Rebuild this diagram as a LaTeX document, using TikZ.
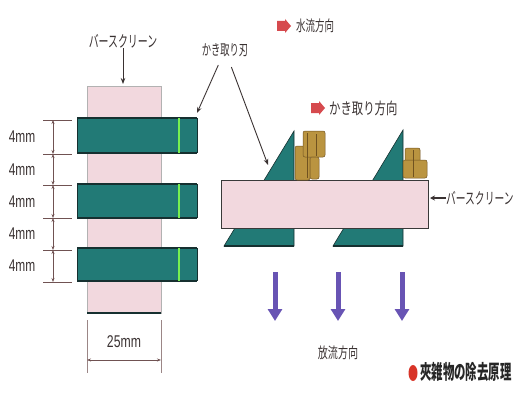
\documentclass[tikz,border=0pt]{standalone}
\usepackage{graphicx}
\usepackage{fontspec}
\setmainfont{Liberation Sans}
\newfontfamily\jp{Noto Sans CJK JP}
\usetikzlibrary{arrows.meta,calc}

\definecolor{barpink}{RGB}{242,216,222}
\definecolor{blade}{RGB}{34,122,118}
\definecolor{bladeedge}{RGB}{22,48,48}
\definecolor{hilite}{RGB}{120,240,80}
\definecolor{debris}{RGB}{186,148,64}
\definecolor{debrisdk}{RGB}{112,82,32}
\definecolor{flowred}{RGB}{214,74,78}
\definecolor{drainblue}{RGB}{104,84,180}
\definecolor{ink}{RGB}{58,50,50}
\definecolor{dimline}{RGB}{112,82,82}
\definecolor{dot}{RGB}{216,52,40}

% horizontally condensed text
\newcommand\narrow[2]{\scalebox{#1}[1]{#2}}

\begin{document}
\begin{tikzpicture}[x=1pt,y=-1pt,
  lbl/.style={inner sep=0pt, text=ink},
  jplbl/.style={lbl, font=\jp\fontsize{16}{16}\selectfont},
  jpsmall/.style={lbl, font=\jp\fontsize{15}{15}\selectfont},
  mmlbl/.style={lbl, font=\fontsize{17}{17}\selectfont},
  dimtick/.style={draw=dimline, line width=0.8pt},
  dimarrow/.style={draw=dimline, line width=0.7pt, {Stealth[length=4pt,width=3pt]}-{Stealth[length=4pt,width=3pt]}},
  pointer/.style={draw=ink, line width=0.9pt, -{Stealth[length=6pt,width=4.5pt]}},
  platefill/.style={fill=blade},
  plateedge/.style={draw=bladeedge, line width=1.3pt},
  junk/.style={fill=debris, draw=debrisdk, line width=0.5pt, rounded corners=2pt},
  drain/.style={draw=drainblue, line width=5pt, -{Triangle[length=12pt,width=14pt]}},
  redarrow/.pic={\fill[flowred] (0,-5) rectangle (8,5) (8,-7) -- (14,0) -- (8,7) -- cycle;}
]
\useasboundingbox (0,0) rectangle (519,396);

% ---------- front view of the bar screen ----------
\draw[fill=barpink, draw=gray!60, line width=0.5pt] (87,86) rectangle (161,313);
\draw[bladeedge, line width=1.2pt] (87,313) -- (161,313);

\foreach \ya/\yb in {118/153, 184/218, 248/281}{
  \fill[platefill] (77,\ya) rectangle (197,\yb);
  \draw[plateedge] (77,\ya) -- (197,\ya);
  \draw[plateedge] (77,\yb) -- (197,\yb);
  \draw[bladeedge, line width=0.4pt] (77,\ya) -- (77,\yb) (197,\ya) -- (197,\yb);
  \draw[hilite, line width=1.2pt] (179,\ya) -- (179,\yb);
}

% pitch dimensions
\foreach \y [count=\i] in {120,154,185,218,250,282}{
  \coordinate (t\i) at (53,\y);
  \draw[dimtick] (43,\y) -- (72,\y);
}
\foreach \a/\b in {1/2,2/3,3/4,4/5,5/6}{
  \draw[dimarrow] (t\a) -- (t\b);
  \node[mmlbl] (mm\a) at ($(t\a)!0.5!(t\b)+(-31,0)$) {\narrow{0.7}{4mm}};
}

% width dimension
\coordinate (wl) at (87,360);
\coordinate (wr) at (161,360);
\draw[draw=dimline!70, line width=0.5pt] (87,320) -- (87,373) (161,320) -- (161,373);
\draw[dimarrow] (wl) -- (wr);
\node[mmlbl] (w25) at (124,342) {\narrow{0.72}{25mm}};

% top label of the bar screen
\node[jplbl] (scrtop) at (123,41) {\narrow{0.62}{バースクリーン}};
\coordinate (bartop) at (123,84);
\draw[pointer] (scrtop) -- (bartop);

% ---------- side view ----------
% blades (partly hidden behind the bar)
\draw[fill=blade, draw=bladeedge, line width=0.6pt] (294,131) -- (294,246) -- (224,246) -- cycle;
\draw[fill=blade, draw=bladeedge, line width=0.6pt] (403,130) -- (403,246) -- (333,246) -- cycle;
\draw[bladeedge, line width=1.2pt] (224,246) -- (294,246) (333,246) -- (403,246);

% bar seen from the side
\draw[fill=barpink, draw=gray!45!black, line width=1pt] (221,180) rectangle (428,228);

% scraped debris
\draw[junk] (295,146) rectangle (310,180);
\draw[junk] (303,131) rectangle (325,157);
\draw[junk] (310,157) rectangle (319,179);
\draw[debrisdk, line width=0.8pt] (307,133) -- (307,178) (316,134) -- (316,156);
\draw[junk] (405,148) rectangle (420,163);
\draw[junk] (403,160) rectangle (427,178);
\draw[debrisdk, line width=0.8pt] (413,150) -- (413,177);

% blade label and pointers
\node[jpsmall] (blbl) at (225,50) {\narrow{0.62}{かき取り刃}};
\coordinate (bladeL) at (197,113);
\coordinate (bladeR) at (268,165);
\draw[pointer, shorten <=9pt] (blbl) -- (bladeL);
\draw[pointer, shorten <=11pt] (blbl) -- (bladeR);

% bar screen label on the right
\node[jplbl, anchor=west] (scrR) at (446,198) {\narrow{0.61}{バースクリーン}};
\coordinate (barR) at (430,198);
\draw[draw=ink, line width=1.4pt, -{Stealth[length=5pt,width=5pt]}] (scrR.west) -- (barR);

% water flow and scraping directions
\pic at (277,26) {redarrow};
\node[jpsmall, anchor=west] (flow) at (296,26) {\narrow{0.63}{水流方向}};
\pic at (311,108) {redarrow};
\node[jplbl, anchor=west] (scrape) at (329,108) {\narrow{0.71}{かき取り方向}};

% drainage arrows
\foreach \x [count=\i] in {275,338,402}{
  \coordinate (d\i a) at (\x,272);
  \coordinate (d\i b) at (\x,321);
  \draw[drain] (d\i a) -- (d\i b);
}
\node[jpsmall] (drainlbl) at (338,353) {\narrow{0.67}{放流方向}};

% caption
\fill[dot] (413,373) ellipse [x radius=4.5, y radius=8];
\node[lbl, anchor=west, text=black!85, font=\jp\bfseries\fontsize{20}{20}\selectfont] (caption) at (420,372) {\narrow{0.57}{夾雑物の除去原理}};
\end{tikzpicture}
\end{document}
